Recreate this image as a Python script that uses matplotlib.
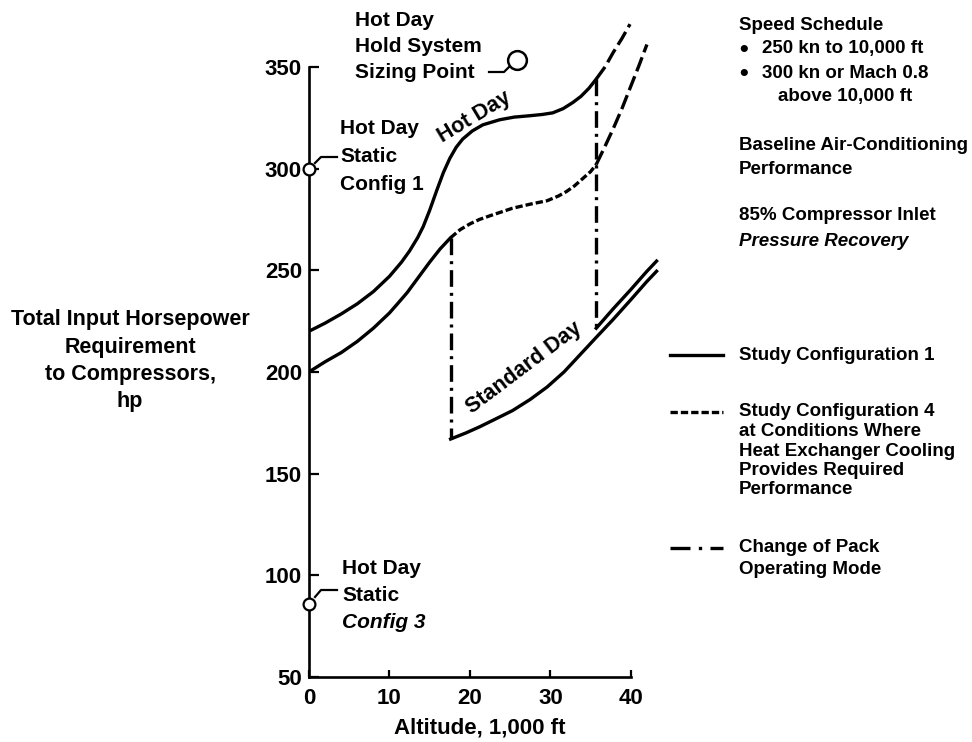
import numpy as np
import matplotlib.pyplot as plt

plt.rcParams['font.family'] = ['Liberation Sans', 'DejaVu Sans']
plt.rcParams['font.weight'] = 'bold'

# Hot Day, Konfiguration 1 (obere Kurve, durchgezogen)
hot_alt = [0, 2, 4, 6, 8, 10, 11.5, 12.5, 13.5, 14.2, 15, 15.9, 16.7, 17.5, 18.3, 19.1, 20.3,
           21.6, 23.7, 25.5, 27.5, 29, 30.3, 31.6, 32.8, 33.8, 34.8, 35.7]
hot_hp = [220, 224, 228.5, 233.5, 239.5, 247, 254, 259.5, 266, 271.5, 279.5, 289.5, 298, 305, 310.5,
          314.5, 318.5, 321.5, 324, 325.3, 326, 326.6, 327.4, 329.5, 332.5, 335.5, 339.5, 344]
# Hot Day oberhalb Umschaltpunkt (gestrichelt)
hot_ext_alt = [35.7, 36.8, 37.8, 38.9, 39.9]
hot_ext_hp = [344, 350, 357, 364, 371]

# untere Kurve, Konfiguration 1 bis zum Umschaltpunkt
low_alt = [0, 2, 4, 6, 8, 10, 11, 12.2, 13.6, 15, 16.3, 17.6]
low_hp = [200, 205, 209.5, 215, 221.5, 229, 233.5, 239, 246.5, 254, 260.5, 266]
# Konfiguration 4 (gestrichelt)
cfg4_alt = [17.6, 18.8, 20, 21.2, 22.5, 25.3, 27.5, 29.6, 31, 32, 33, 34, 35, 35.7]
cfg4_hp = [266, 270, 272.8, 275, 276.8, 280.5, 282.5, 284.2, 286.5, 288.7, 291.5, 295, 298.5, 302]
cfg4_ext_alt = [35.7, 36.8, 37.8, 38.9, 39.9, 41, 42]
cfg4_ext_hp = [302, 311, 319.5, 329.5, 339.5, 350.5, 361]

# Standard Day
std_alt = [17.6, 19.5, 21.2, 23, 25.3, 27.5, 29.6, 31.7, 33.7, 35.7, 37.8, 40, 42, 43.2]
std_hp = [167, 170, 173, 176.5, 181, 186.5, 192.6, 200, 208.5, 217, 225.8, 235.5, 244.5, 249.5]
std2_alt = [35.7, 37.8, 40, 42, 43.2]
std2_hp = [221.5, 231, 240.5, 249.5, 254.5]

# Umschaltung Pack-Betriebsart (strichpunktiert)
mode_alt = [17.6, 35.7]
mode_top = [266, 344]
mode_bot = [167, 221.5]

# Einzelpunkte
static_alt = [0, 0]
static_hp = [300, 86]
sizing_alt = [25.8]
sizing_hp = [353.5]

y_ticks = [50, 100, 150, 200, 250, 300, 350]
x_ticks = [0, 10, 20, 30, 40]

lw = 2.4
ls_cfg4 = (0, (2.2, 0.9))
ls_ext = (0, (4.5, 1.6))
ls_mode = (0, (5, 1.8, 0.9, 1.8))

fig = plt.figure(figsize=(9.72, 7.42), dpi=100)
ax = fig.add_axes([309/972, 65/742, 354/972, 663/742])
ax.set_xlim(0, 44)
ax.set_ylim(50, 376)

ax.plot(hot_alt, hot_hp, color='black', lw=lw, solid_capstyle='round', solid_joinstyle='round')
ax.plot(hot_ext_alt, hot_ext_hp, color='black', lw=lw, linestyle=ls_ext, clip_on=False)
ax.plot(low_alt, low_hp, color='black', lw=lw, solid_capstyle='round', solid_joinstyle='round')
ax.plot(cfg4_alt, cfg4_hp, color='black', lw=lw, linestyle=ls_cfg4)
ax.plot(cfg4_ext_alt, cfg4_ext_hp, color='black', lw=lw, linestyle=ls_ext, clip_on=False)
ax.plot(std_alt, std_hp, color='black', lw=lw, solid_joinstyle='round')
ax.plot(std2_alt, std2_hp, color='black', lw=lw)
for xa, y1, y2 in zip(mode_alt, mode_top, mode_bot):
    ax.plot([xa, xa], [y1, y2], color='black', lw=lw, linestyle=ls_mode)

ax.plot(static_alt, static_hp, 'o', mfc='white', mec='black', ms=8.5, mew=1.6, clip_on=False, zorder=5)
ax.plot(sizing_alt, sizing_hp, 'o', mfc='white', mec='black', ms=13.5, mew=1.8, clip_on=False, zorder=5)

for s in ['top', 'right']:
    ax.spines[s].set_visible(False)
ax.spines['left'].set_bounds(50, 350)
ax.spines['bottom'].set_bounds(0, 40)
ax.spines['left'].set_linewidth(1.9)
ax.spines['bottom'].set_linewidth(1.9)
ax.set_yticks(y_ticks)
ax.set_xticks(x_ticks)
ax.tick_params(axis='y', direction='in', length=7.5, width=1.6, pad=5, labelsize=16)
ax.tick_params(axis='x', direction='in', length=5, width=1.6, pad=8, labelsize=16)

# Overlay in Pixelkoordinaten fuer Beschriftungen
ov = fig.add_axes([0, 0, 1, 1])
ov.set_xlim(0, 972)
ov.set_ylim(742, 0)
ov.axis('off')
ov.patch.set_alpha(0)


def zeilen(x, y0, dy, lines, size, italic=(), ha='left'):
    for i, s in enumerate(lines):
        ov.text(x, y0 + i * dy, s, fontsize=size, ha=ha, va='center',
                style='italic' if i in italic else 'normal')


zeilen(130, 320, 27.3, ['Total Input Horsepower', 'Requirement', 'to Compressors,', 'hp'], 15.5, ha='center')
ov.text(480, 728, 'Altitude, 1,000 ft', ha='center', va='center', fontsize=16)

zeilen(355, 20, 26, ['Hot Day', 'Hold System', 'Sizing Point'], 15)
zeilen(340, 129, 27.5, ['Hot Day', 'Static', 'Config 1'], 15)
zeilen(342, 569, 26.5, ['Hot Day', 'Static', 'Config 3'], 15, italic=(2,))

ov.text(474, 117, 'Hot Day', rotation=31, ha='center', va='center', fontsize=15.5)
ov.text(524, 368, 'Standard Day', rotation=37, ha='center', va='center', fontsize=15.5)

# Fuehrungslinien
ov.plot([489, 504, 509], [72, 72, 67], color='black', lw=1.6)
ov.plot([315, 321, 337], [163, 157, 157], color='black', lw=1.6)
ov.plot([315, 321, 337], [597, 590, 590], color='black', lw=1.6)

# Rechte Textspalte
fs = 13.5
ov.text(739, 25, 'Speed Schedule', fontsize=fs, va='center')
ov.text(744, 50, '•', fontsize=18, va='center', ha='center')
ov.text(762, 49, '250 kn to 10,000 ft', fontsize=fs, va='center')
ov.text(744, 74, '•', fontsize=18, va='center', ha='center')
ov.text(762, 73, '300 kn or Mach 0.8', fontsize=fs, va='center')
ov.text(778, 97, 'above 10,000 ft', fontsize=fs, va='center')
zeilen(739, 145, 25, ['Baseline Air-Conditioning', 'Performance'], fs)
zeilen(739, 215, 27, ['85% Compressor Inlet', 'Pressure Recovery'], fs, italic=(1,))

# Legende
ov.plot([670, 723], [355, 355], color='black', lw=lw)
ov.text(739, 355, 'Study Configuration 1', fontsize=fs, va='center')
ov.plot([670, 723], [412, 412], color='black', lw=lw, linestyle=ls_cfg4)
zeilen(739, 412, 19.5, ['Study Configuration 4', 'at Conditions Where', 'Heat Exchanger Cooling',
                        'Provides Required', 'Performance'], fs)
ov.plot([670, 723], [548, 548], color='black', lw=lw, linestyle=(0, (6, 2.5, 1, 2.5)))
zeilen(739, 548, 22, ['Change of Pack', 'Operating Mode'], fs)

fig.savefig('out.png', dpi=100, facecolor='white')
